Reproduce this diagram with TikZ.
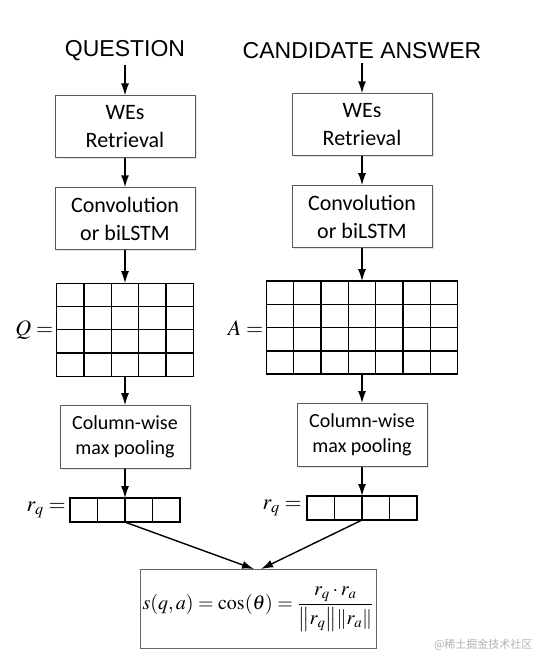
\documentclass[tikz,border=0pt]{standalone}
\usepackage{mathptmx}
\usepackage{fontspec}
\setmainfont{Liberation Serif}
\newfontfamily\headfont{Liberation Sans}
\newfontfamily\boxfont{Carlito}
\newfontfamily\markfont{Noto Sans CJK SC}
\usetikzlibrary{positioning,calc,arrows.meta,shadows}

\begin{document}
\begin{tikzpicture}[
    x=1pt, y=-1pt,
    node distance=29pt,
    heading/.style={font=\headfont\fontsize{23}{27}\selectfont, inner sep=4pt},
    box/.style={draw=black!65, line width=0.9pt, fill=white, align=center, inner sep=0pt,
      minimum width=140pt, minimum height=62pt, font=\boxfont\fontsize{22}{28}\selectfont,
      drop shadow={opacity=0.2, shadow xshift=1.5pt, shadow yshift=-1.5pt}},
    poolbox/.style={box, minimum width=130pt, minimum height=63pt, font=\boxfont\fontsize{20}{25}\selectfont},
    matcell/.style={draw, line width=1.3pt, inner sep=0pt, outer sep=0pt},
    matline/.style={line width=1.3pt},
    lbl/.style={font=\fontsize{22}{26}\selectfont, inner sep=1pt},
    simbox/.style={draw=black!60, line width=0.9pt, inner sep=0pt, minimum width=236pt, minimum height=79pt,
      font=\fontsize{20}{24}\selectfont},
    arrow/.style={-{Latex[length=12pt, width=8pt]}, line width=1.4pt}
  ]
    \path[use as bounding box, fill=white] (0,0) rectangle (553,668);

    % question side
    \node[heading] (qtitle) at (125,51) {QUESTION};
    \node[box, below=30pt of qtitle] (qwe) {WEs\\Retrieval};
    \node[box, below=of qwe] (qconv) {Convolution\\or biLSTM};
    \node[matcell, minimum width=137pt, minimum height=93pt, below=33pt of qconv] (qmat) {};
    \node[poolbox, below=of qmat] (qpool) {Column-wise\\max pooling};
    \node[matcell, minimum width=110pt, minimum height=24pt, below=of qpool] (qvec) {};
    \node[lbl, left=2pt of qmat] (qlbl) {$Q\;{=}$};
    \node[lbl, left=3pt of qvec] (qvlbl) {$r_q\;{=}$};

    % answer side
    \node[heading] (atitle) at (362,51) {CANDIDATE ANSWER};
    \node[box, below=30pt of atitle] (awe) {WEs\\Retrieval};
    \node[box, below=of awe] (aconv) {Convolution\\or biLSTM};
    \node[matcell, minimum width=191pt, minimum height=93pt, below=33pt of aconv] (amat) {};
    \node[poolbox, below=of amat] (apool) {Column-wise\\max pooling};
    \node[matcell, minimum width=110pt, minimum height=24pt, below=of apool] (avec) {};
    \node[lbl, left=2pt of amat] (albl) {$A\;{=}$};
    \node[lbl, left=4pt of avec] (avlbl) {$r_q\;{=}$};

    % grid lines
    \foreach \i in {1,...,4}
      \draw[matline] ($(qmat.north west)!\i/5!(qmat.north east)$) -- ($(qmat.south west)!\i/5!(qmat.south east)$);
    \foreach \i in {1,...,6}
      \draw[matline] ($(amat.north west)!\i/7!(amat.north east)$) -- ($(amat.south west)!\i/7!(amat.south east)$);
    \foreach \j in {1,2,3} {
      \draw[matline] ($(qmat.north west)!\j/4!(qmat.south west)$) -- ($(qmat.north east)!\j/4!(qmat.south east)$);
      \draw[matline] ($(amat.north west)!\j/4!(amat.south west)$) -- ($(amat.north east)!\j/4!(amat.south east)$);
    }
    \foreach \i in {1,2,3} {
      \draw[matline] ($(qvec.north west)!\i/4!(qvec.north east)$) -- ($(qvec.south west)!\i/4!(qvec.south east)$);
      \draw[matline] ($(avec.north west)!\i/4!(avec.north east)$) -- ($(avec.south west)!\i/4!(avec.south east)$);
    }

    % similarity
    \node[simbox] (sim) at (258,609) {$\displaystyle s(q,a)=\cos(\theta)=\frac{r_q\cdot r_a}{\left\|r_q\right\|\!\left\|r_a\right\|}$};

    \draw[arrow] (qtitle) -- (qwe);
    \draw[arrow] (qwe) -- (qconv);
    \draw[arrow] (qconv) -- (qmat);
    \draw[arrow] (qmat) -- (qpool);
    \draw[arrow] (qpool) -- (qvec);
    \draw[arrow] (atitle) -- (awe);
    \draw[arrow] (awe) -- (aconv);
    \draw[arrow] (aconv) -- (amat);
    \draw[arrow] (amat) -- (apool);
    \draw[arrow] (apool) -- (avec);
    \draw[arrow] (qvec.south) -- ([xshift=-4pt]sim.north);
    \draw[arrow] (avec.south) -- ([xshift=3pt]sim.north);

    \node[font=\markfont\fontsize{11}{13}\selectfont, text=black!30, anchor=east] (mark) at (536,645) {@稀土掘金技术社区};
  \end{tikzpicture}
\end{document}
